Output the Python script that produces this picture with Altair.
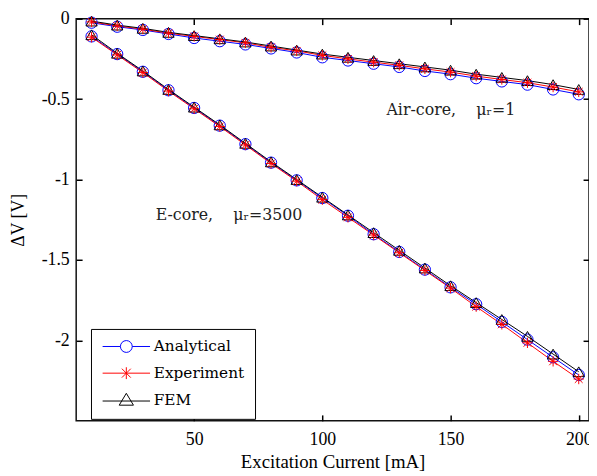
import altair as alt
import pandas as pd

# ---- data ----
current = [10, 20, 30, 40, 50, 60, 70, 80, 90, 100, 110, 120, 130, 140, 150, 160, 170, 180, 190, 200]

air_analytical = [-0.025, -0.05, -0.07, -0.095, -0.12, -0.14, -0.16, -0.185, -0.21, -0.24, -0.26, -0.28, -0.30, -0.325, -0.345, -0.37, -0.39, -0.41, -0.44, -0.47]
air_experiment = [-0.02, -0.045, -0.065, -0.09, -0.11, -0.13, -0.15, -0.178, -0.20, -0.228, -0.25, -0.27, -0.29, -0.312, -0.332, -0.357, -0.378, -0.398, -0.425, -0.455]
air_fem = [-0.015, -0.04, -0.06, -0.085, -0.105, -0.125, -0.145, -0.17, -0.195, -0.22, -0.24, -0.26, -0.28, -0.30, -0.32, -0.345, -0.365, -0.385, -0.41, -0.44]

e_analytical = [-0.11, -0.22, -0.33, -0.445, -0.555, -0.665, -0.78, -0.895, -1.005, -1.115, -1.225, -1.34, -1.45, -1.56, -1.67, -1.775, -1.885, -1.995, -2.105, -2.215]
e_experiment = [-0.115, -0.225, -0.335, -0.45, -0.56, -0.67, -0.785, -0.90, -1.01, -1.125, -1.235, -1.345, -1.455, -1.565, -1.675, -1.79, -1.90, -2.015, -2.13, -2.24]
e_fem = [-0.10, -0.215, -0.325, -0.44, -0.55, -0.66, -0.775, -0.89, -1.00, -1.11, -1.22, -1.33, -1.44, -1.55, -1.66, -1.765, -1.87, -1.975, -2.085, -2.195]

series_names = ["Analytical", "Experiment", "FEM"]
series_colors = ["#0000ff", "#ff0000", "#000000"]

x_ticks = [50, 100, 150, 200]
y_ticks = [0, -0.5, -1, -1.5, -2]

NB = "\u00a0"
ann_text = ["Air-core," + NB * 4 + "\u03bc\u1d63=1", "E-core," + NB * 4 + "\u03bc\u1d63=3500"]
ann_x = [125, 35]
ann_y = [-0.57, -1.22]

# ---- tables ----
rows = []
for core, sets in [("Air", [air_analytical, air_experiment, air_fem]),
                   ("E", [e_analytical, e_experiment, e_fem])]:
    for name, vals in zip(series_names, sets):
        for x, y in zip(current, vals):
            rows.append({"current": x, "dv": y, "series": name, "core": core})
df = pd.DataFrame(rows)
ann = pd.DataFrame({"x": ann_x, "y": ann_y, "text": ann_text})

W, H = 519, 407
FONT = "Liberation Serif"
WFONT = "DejaVu Serif"
xs = alt.Scale(domain=[4, 204], nice=False, zero=False)
ys = alt.Scale(domain=[-2.5, 0], nice=False, zero=False)
LBL = "'' + datum.value"
INWARD = alt.ExprRef(expr="-6")

ASTER = "M-1,0L1,0M0,-1L0,1M-0.75,-0.75L0.75,0.75M-0.75,0.75L0.75,-0.75"
marker_shapes = {"Analytical": "circle", "Experiment": ASTER, "FEM": "triangle-up"}
marker_sizes = {"Analytical": 130, "Experiment": 110, "FEM": 130}
# legend glyphs: line from -1 to 7 units, marker centred at 3 units
legend_paths = [
    "M-1,0L2,0M4,0L7,0M2,0A1,1,0,1,1,4,0A1,1,0,1,1,2,0",
    "M-1,0L7,0M3,-1L3,1M2.25,-0.75L3.75,0.75M2.25,0.75L3.75,-0.75",
    "M-1,0.2L7,0.2M3,-1.1L4.2,0.9L1.8,0.9Z",
]

main_x = alt.Axis(orient="bottom", values=x_ticks, labelExpr=LBL, ticks=True, tickSize=INWARD,
                  tickWidth=1.5, tickColor="black",
                  domain=False, grid=False, labelFont=FONT, labelFontSize=18, labelColor="black",
                  labelPadding=16, labelFlush=False, title="Excitation Current [mA]",
                  titleFont=FONT, titleFontSize=19, titleFontWeight="normal", titleColor="black",
                  titlePadding=4)
main_y = alt.Axis(orient="left", values=y_ticks, labelExpr=LBL, ticks=True, tickSize=INWARD,
                  tickWidth=1.5, tickColor="black",
                  domain=False, grid=False, labelFont=FONT, labelFontSize=18, labelColor="black",
                  labelPadding=13, labelFlush=False, title="\u0394V [V]",
                  titleFont=FONT, titleFontSize=18, titleFontWeight="normal", titleColor="black",
                  titlePadding=14)


def tick_axis(orient, values):
    return alt.Axis(orient=orient, values=values, labels=False, domain=False, grid=False,
                    ticks=True, tickSize=INWARD, tickWidth=1.5, tickColor="black", title="")


axes_sets = {
    "Analytical": (main_x, main_y),
    "Experiment": (tick_axis("top", x_ticks), tick_axis("right", y_ticks)),
    "FEM": (None, None),
}

base = alt.Chart(df)
layers = []
for name, col in zip(series_names, series_colors):
    ax, ay = axes_sets[name]
    layers.append(
        base.transform_filter(alt.datum.series == name).mark_line(strokeWidth=1, color=col).encode(
            x=alt.X("current:Q", scale=xs, axis=ax),
            y=alt.Y("dv:Q", scale=ys, axis=ay),
            detail="core:N",
        )
    )
for name in ["Analytical", "FEM", "Experiment"]:
    col = series_colors[series_names.index(name)]
    layers.append(
        base.transform_filter(alt.datum.series == name).mark_point(
            shape=marker_shapes[name], size=marker_sizes[name], filled=False,
            color=col, strokeWidth=1, opacity=1
        ).encode(
            x=alt.X("current:Q", scale=xs, axis=None),
            y=alt.Y("dv:Q", scale=ys, axis=None),
        )
    )

layers.append(
    alt.Chart(ann).mark_text(align="left", baseline="middle", font=WFONT, fontSize=16,
                             color="#222222").encode(
        x=alt.X("x:Q", scale=xs, axis=None),
        y=alt.Y("y:Q", scale=ys, axis=None),
        text="text:N",
    )
)

leg = alt.Legend(title=None, orient="none", legendX=15, legendY=314, strokeColor="black",
                 fillColor="white", padding=10, symbolSize=144, symbolStrokeWidth=1,
                 symbolOpacity=1, labelFont=WFONT, labelFontSize=15.5, labelColor="black",
                 labelOffset=38, rowPadding=9)
layers.append(
    base.transform_filter(alt.datum.core == "Air").mark_point(filled=False, opacity=0, size=1).encode(
        x=alt.X("current:Q", scale=xs, axis=None),
        y=alt.Y("dv:Q", scale=ys, axis=None),
        color=alt.Color("series:N", scale=alt.Scale(domain=series_names, range=series_colors), legend=leg),
        shape=alt.Shape("series:N", scale=alt.Scale(domain=series_names, range=legend_paths), legend=leg),
    )
)

chart = alt.layer(*layers).resolve_axis(x="independent", y="independent").properties(
    width=W, height=H, autosize="none",
    padding={"left": 69, "top": 8, "right": 0, "bottom": 52},
    background="white",
).configure_view(stroke="#111111", strokeWidth=1.5)

chart.save("out.html", embed_options={"renderer": "svg", "actions": False})
